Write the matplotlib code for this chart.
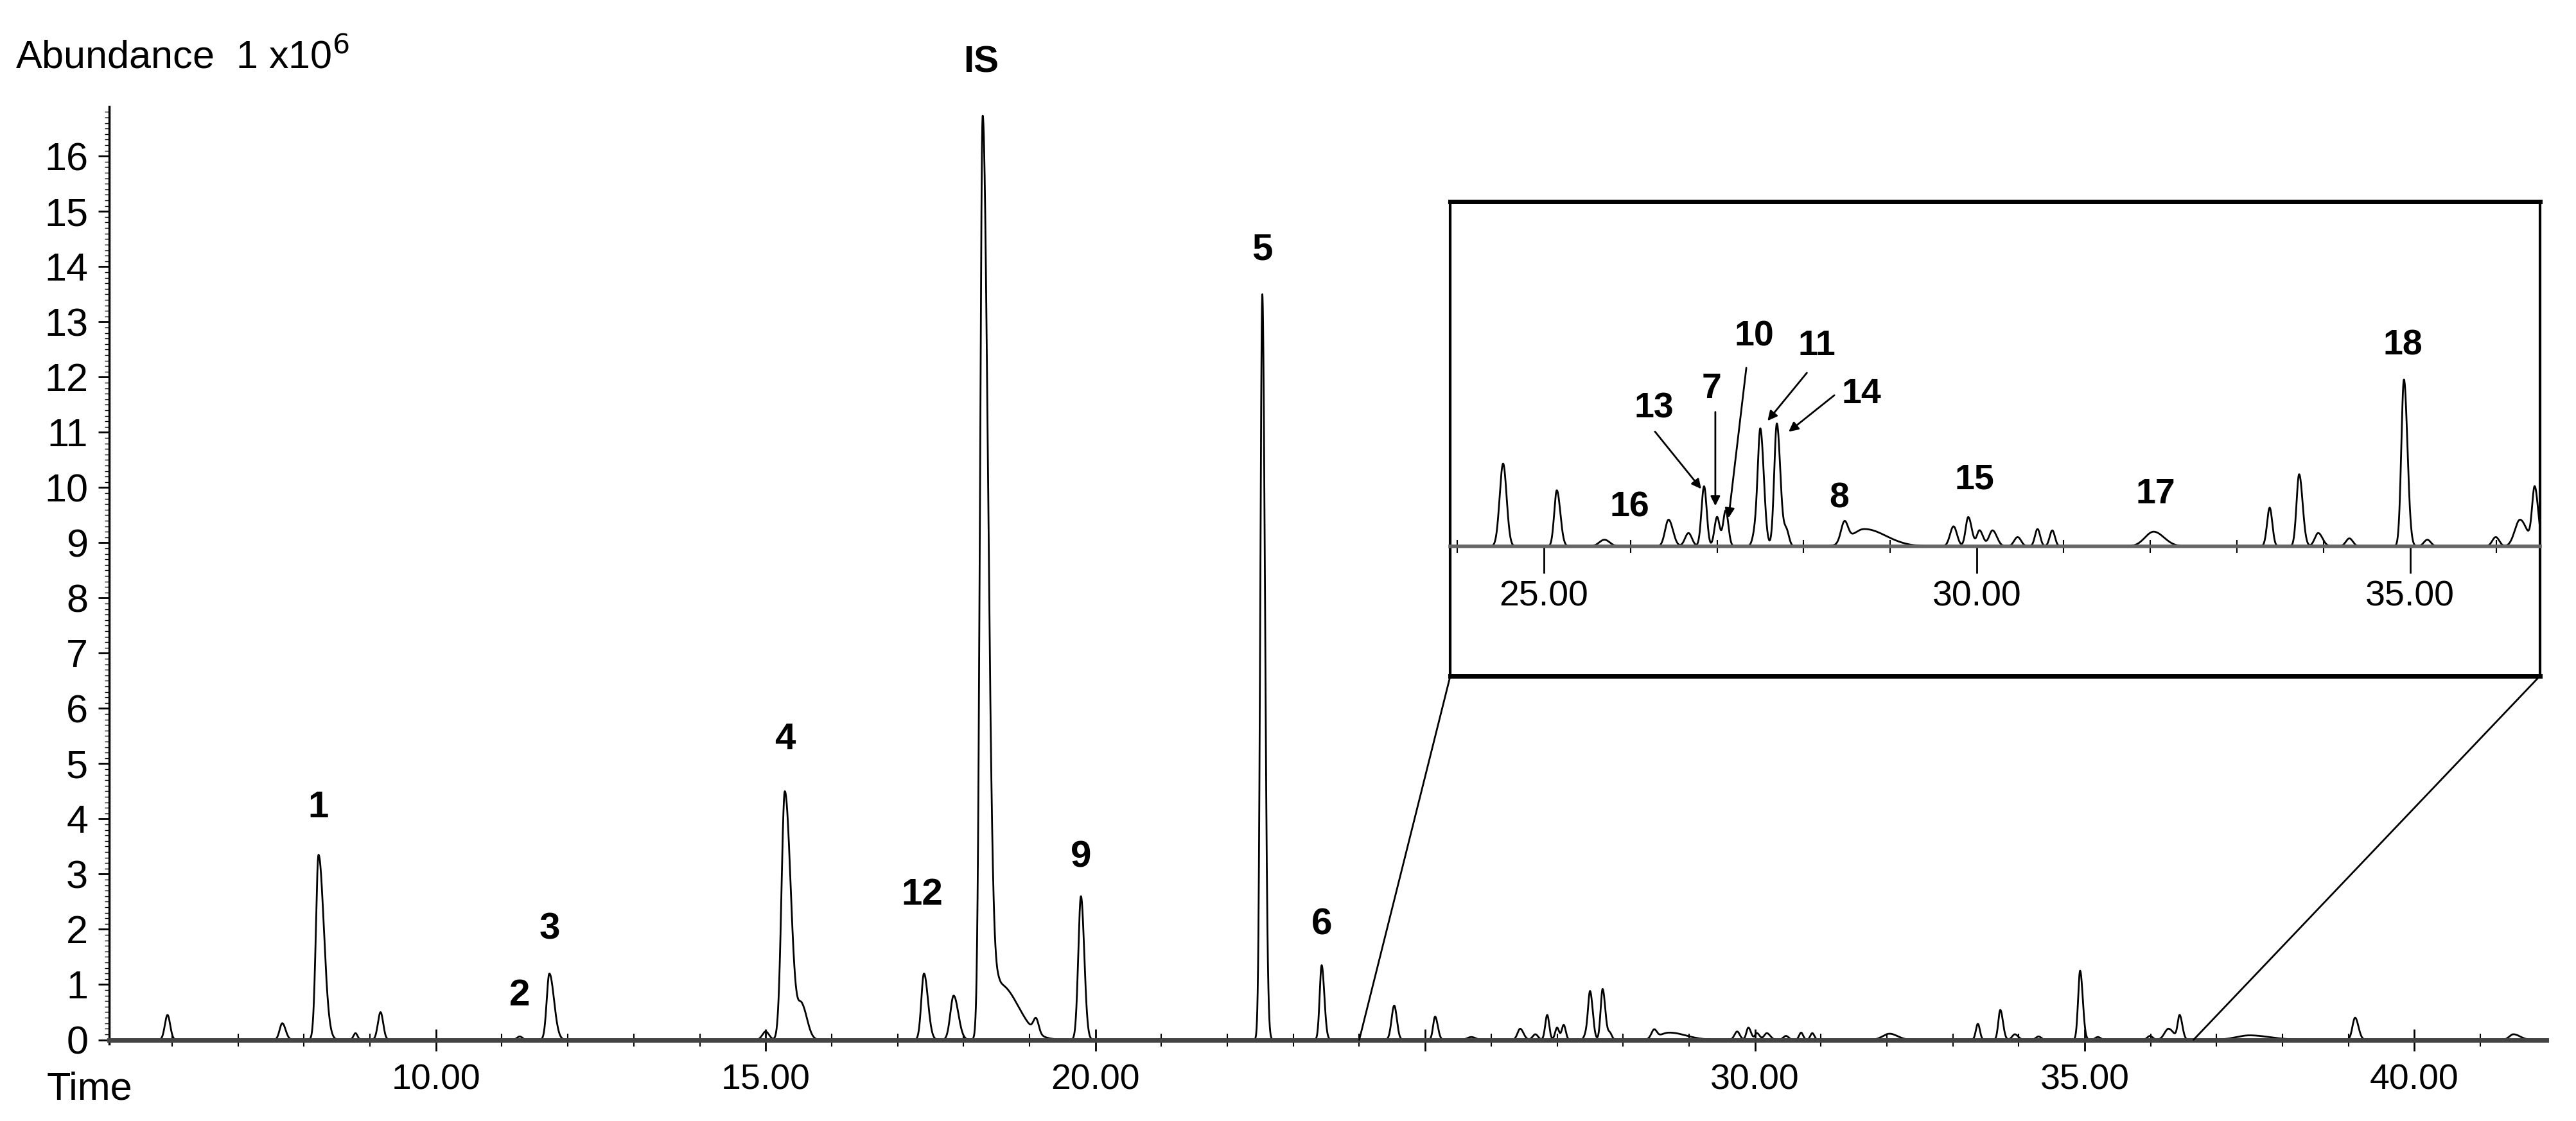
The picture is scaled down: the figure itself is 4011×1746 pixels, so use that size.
import numpy as np
import matplotlib
matplotlib.use("Agg")
import matplotlib.pyplot as plt
from matplotlib.patches import Rectangle, ConnectionPatch

plt.rcParams['font.family'] = ['Liberation Sans', 'DejaVu Sans']

# ---- data: peak retention time (min), height (x1e6), left/right width (min)
peak_times   = [5.93, 7.67, 8.22, 8.78, 9.16, 11.27, 11.72, 15.0, 15.29, 15.55, 17.4, 17.85, 18.29, 18.55, 19.1, 19.78,
                22.53, 23.43, 24.53, 25.15, 25.7, 26.44, 26.67, 26.85, 27.0, 27.1, 27.44, 27.5, 27.69, 27.8,
                28.47, 28.7, 29.73, 29.9, 30.03, 30.18, 30.47, 30.7, 30.87, 32.04, 33.38, 33.72, 33.94, 34.3,
                34.93, 35.2, 35.99, 36.27, 36.44, 37.5, 39.1, 41.5]
peak_heights = [0.45, 0.3, 3.35, 0.12, 0.5, 0.06, 1.2, 0.15, 4.5, 0.6, 1.2, 0.8, 16.7, 1.0, 0.25, 2.6,
                13.5, 1.35, 0.62, 0.42, 0.05, 0.2, 0.1, 0.45, 0.22, 0.27, 0.1, 0.87, 0.92, 0.12,
                0.15, 0.13, 0.15, 0.22, 0.12, 0.12, 0.07, 0.13, 0.12, 0.11, 0.29, 0.54, 0.1, 0.06,
                1.25, 0.05, 0.07, 0.2, 0.43, 0.08, 0.4, 0.1]
peak_wl      = [0.04, 0.04, 0.04, 0.03, 0.04, 0.04, 0.04, 0.05, 0.05, 0.06, 0.04, 0.05, 0.04, 0.1, 0.04, 0.04,
                0.03, 0.03, 0.04, 0.03, 0.06, 0.04, 0.04, 0.03, 0.03, 0.03, 0.03, 0.03, 0.03, 0.03,
                0.04, 0.15, 0.04, 0.03, 0.03, 0.04, 0.04, 0.03, 0.03, 0.1, 0.03, 0.03, 0.04, 0.04,
                0.03, 0.04, 0.04, 0.06, 0.03, 0.2, 0.04, 0.06]
peak_wr      = [0.04, 0.05, 0.08, 0.03, 0.04, 0.04, 0.07, 0.05, 0.09, 0.08, 0.06, 0.07, 0.08, 0.28, 0.04, 0.05,
                0.04, 0.04, 0.04, 0.04, 0.06, 0.05, 0.04, 0.03, 0.03, 0.03, 0.03, 0.04, 0.04, 0.03,
                0.04, 0.25, 0.04, 0.04, 0.04, 0.05, 0.04, 0.03, 0.03, 0.12, 0.03, 0.04, 0.05, 0.04,
                0.04, 0.04, 0.04, 0.08, 0.04, 0.3, 0.05, 0.1]

main_labels = ['1', '2', '3', '4', '12', 'IS', '9', '5', '6']
main_lx     = [8.22, 11.27, 11.72, 15.29, 17.37, 18.27, 19.78, 22.53, 23.43]
main_ly     = [4.2, 0.8, 2.0, 5.44, 2.62, 17.7, 3.3, 14.3, 2.08]

inset_labels = ['16', '13', '7', '10', '11', '14', '8', '15', '17', '18']
inset_lx     = [25.99, 26.27, 26.94, 27.43, 28.15, 28.67, 28.41, 29.97, 32.06, 34.92]
inset_ly     = [0.29, 1.03, 1.18, 1.57, 1.50, 1.14, 0.36, 0.50, 0.39, 1.50]
arrow_from   = [(26.27, 0.87), (26.98, 1.02), (27.34, 1.35), (28.05, 1.31), (28.37, 1.14)]
arrow_to     = [(26.83, 0.42), (26.98, 0.29), (27.13, 0.20), (27.57, 0.93), (27.81, 0.85)]

xticks = [10, 15, 20, 25, 30, 35, 40]
xticklabels = ['10.00', '15.00', '20.00', '', '30.00', '35.00', '40.00']
yticks = list(range(0, 17))

# ---- build trace
t = np.linspace(5.05, 42.0, 20000)
y = np.zeros_like(t)
for t0, h, wl, wr in zip(peak_times, peak_heights, peak_wl, peak_wr):
    s = np.where(t < t0, wl, wr)
    y += h * np.exp(-0.5 * ((t - t0) / s) ** 2)

W, H = 4011, 1746
fig = plt.figure(figsize=(W / 100, H / 100), dpi=100)
ax = fig.add_axes([0.0425, 0.069, 0.946, 0.836])
ax.plot(t, y, color='black', lw=2)
ax.set_xlim(5.05, 42.0)
ax.set_ylim(-0.07, 16.9)
for s in ['top', 'right']:
    ax.spines[s].set_visible(False)
ax.spines['left'].set_linewidth(2.5)
ax.spines['bottom'].set_linewidth(5)
ax.spines['bottom'].set_color('#444444')
ax.spines['bottom'].set_position(('data', 0))
ax.set_yticks(yticks)
ax.set_yticklabels([str(v) for v in yticks])
ax.set_yticks(np.arange(0, 16.9, 0.1), minor=True)
ax.set_xticks(xticks)
ax.set_xticklabels(xticklabels)
ax.set_xticks(np.arange(6, 42, 1), minor=True)
ax.tick_params(axis='y', labelsize=44, length=12, width=2, pad=12)
ax.tick_params(axis='y', which='minor', length=5, width=1)
ax.tick_params(axis='x', labelsize=40, length=25, width=2, pad=14, direction='inout')
ax.tick_params(axis='x', which='minor', length=14, width=1.5, direction='inout')
for lab, lx, ly in zip(main_labels, main_lx, main_ly):
    ax.text(lx, ly, lab, ha='center', va='center', fontsize=42, fontweight='bold')
fig.text(0.006, 0.965, 'Abundance  1 x10$^{6}$', fontsize=44, va='top', ha='left')
fig.text(0.018, 0.028, 'Time', fontsize=44, va='center', ha='left')

# ---- inset
axi = fig.add_axes([0.563, 0.397, 0.423, 0.423])
mask = (t >= 23.9) & (t <= 36.6)
axi.plot(t[mask], y[mask], color='black', lw=2)
axi.set_xlim(23.92, 36.5)
axi.set_ylim(-0.97, 2.58)
for s in ['top', 'right', 'left']:
    axi.spines[s].set_visible(False)
axi.spines['bottom'].set_position(('data', 0))
axi.spines['bottom'].set_color('#666666')
axi.spines['bottom'].set_linewidth(4)
axi.add_patch(Rectangle((0, 0), 1, 1, transform=axi.transAxes, fill=False, lw=3,
                        edgecolor='black', clip_on=False))
axi.plot([0, 1], [1, 1], transform=axi.transAxes, color='black', lw=5, clip_on=False)
axi.plot([0, 1], [0, 0], transform=axi.transAxes, color='black', lw=5, clip_on=False)
axi.set_yticks([])
axi.set_xticks([25, 30, 35])
axi.set_xticklabels(['25.00', '30.00', '35.00'])
axi.set_xticks(np.arange(24, 37, 1), minor=True)
axi.tick_params(axis='x', labelsize=40, length=30, width=2, pad=8, direction='out')
axi.tick_params(axis='x', which='minor', length=14, width=1.5, direction='inout')
for lab, lx, ly in zip(inset_labels, inset_lx, inset_ly):
    axi.text(lx, ly, lab, ha='center', va='center', fontsize=40, fontweight='bold')
for (x0, y0), (x1, y1) in zip(arrow_from, arrow_to):
    axi.annotate('', xy=(x1, y1), xytext=(x0, y0),
                 arrowprops=dict(arrowstyle='-|>', color='black', lw=2, mutation_scale=22))

# connector lines
for xa, xm in [(0, 24.0), (1, 36.65)]:
    con = ConnectionPatch(xyA=(xa, 0), coordsA=axi.transAxes, xyB=(xm, 0), coordsB=ax.transData,
                          color='black', lw=2)
    fig.add_artist(con)

fig.savefig('out.png', dpi=100)
